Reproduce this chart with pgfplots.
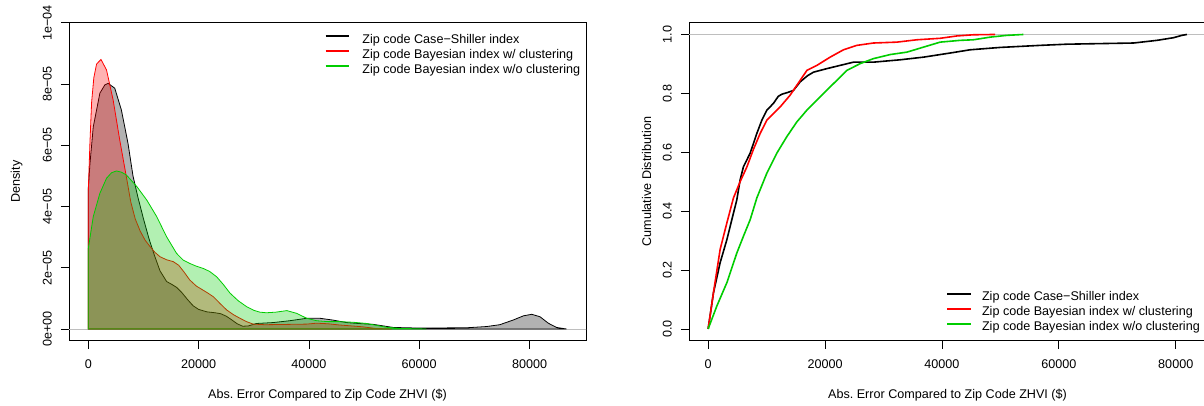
\documentclass[border=0pt]{standalone}
\usepackage{fontspec}
\setmainfont{Liberation Sans}
\usepackage{pgfplots}
\pgfplotsset{compat=1.18}
\definecolor{rgreen}{RGB}{0,205,0}
\definecolor{rgray}{RGB}{190,190,190}
\newcommand{\rfont}{\fontsize{12.6bp}{15bp}\selectfont}

\pgfplotstableread{
x y
0 4.6e-5
300 5.4e-5
900 6.6e-5
2100 7.7e-5
3000 7.97e-5
3600 8.02e-5
4800 7.86e-5
6000 7.15e-5
7200 6.06e-5
8100 5.0e-5
9000 4.3e-5
10000 3.6e-5
11000 2.95e-5
12000 2.4e-5
13000 1.9e-5
14200 1.55e-5
15200 1.45e-5
16000 1.36e-5
17000 1.18e-5
18000 0.96e-5
19000 0.76e-5
20000 0.64e-5
21500 0.56e-5
23000 0.53e-5
24000 0.5e-5
25000 0.42e-5
26000 0.3e-5
27000 0.17e-5
28000 0.09e-5
29000 0.1e-5
30500 0.18e-5
33500 0.21e-5
36500 0.27e-5
39600 0.35e-5
42000 0.35e-5
44400 0.29e-5
46800 0.21e-5
49000 0.18e-5
51700 0.15e-5
55300 0.05e-5
60000 0.03e-5
68600 0.04e-5
72200 0.08e-5
74600 0.14e-5
77000 0.29e-5
78900 0.43e-5
80400 0.48e-5
81900 0.40e-5
83400 0.19e-5
84900 0.05e-5
86700 0.0
}\densCS

\pgfplotstableread{
x y
0 4.5e-5
300 6.1e-5
600 7.4e-5
1000 8.2e-5
1500 8.65e-5
2300 8.8e-5
3300 8.46e-5
4500 7.48e-5
5700 6.17e-5
6900 4.97e-5
7700 4.15e-5
8500 3.6e-5
9400 3.2e-5
10300 2.9e-5
11200 2.69e-5
12100 2.5e-5
13000 2.36e-5
14200 2.26e-5
15400 2.2e-5
16400 2.08e-5
17400 1.85e-5
18400 1.6e-5
19600 1.4e-5
20800 1.27e-5
21700 1.17e-5
22700 1.05e-5
23900 0.83e-5
25100 0.62e-5
26300 0.47e-5
27500 0.35e-5
28700 0.24e-5
29900 0.16e-5
32000 0.14e-5
36000 0.15e-5
39600 0.16e-5
41400 0.19e-5
43500 0.17e-5
45600 0.13e-5
47800 0.1e-5
49800 0.07e-5
52000 0.02e-5
55000 0
}\densBW

\pgfplotstableread{
x y
0 2.63e-5
900 3.67e-5
2100 4.43e-5
3300 4.92e-5
4200 5.1e-5
5100 5.16e-5
6000 5.12e-5
6900 5.03e-5
8800 4.65e-5
10600 4.21e-5
12400 3.67e-5
14200 3.01e-5
16000 2.47e-5
17200 2.25e-5
18400 2.14e-5
19600 2.05e-5
20800 1.98e-5
22000 1.88e-5
23300 1.7e-5
24500 1.45e-5
25700 1.17e-5
27200 0.92e-5
28700 0.73e-5
30000 0.61e-5
31100 0.55e-5
32300 0.53e-5
34000 0.55e-5
36000 0.6e-5
37800 0.51e-5
39600 0.35e-5
41400 0.27e-5
43500 0.24e-5
45600 0.24e-5
48000 0.22e-5
50500 0.18e-5
52500 0.11e-5
54100 0.055e-5
56500 0.02e-5
61300 0
}\densBWO

\pgfplotstableread{
x y
0 0
910 0.123
2050 0.225
3200 0.303
4050 0.371
4910 0.439
5470 0.506
6040 0.551
7190 0.597
8330 0.664
9190 0.709
10040 0.743
11170 0.766
12000 0.79
12600 0.797
13600 0.803
14590 0.81
15740 0.839
17000 0.86
18020 0.872
20310 0.884
22580 0.895
24860 0.906
28280 0.906
32850 0.914
36840 0.923
41400 0.937
44820 0.948
49960 0.956
56800 0.963
61370 0.967
72770 0.971
76770 0.98
79610 0.989
81050 0.997
81900 1.0
}\ecdfCS

\pgfplotstableread{
x y
0 0
1000 0.135
2050 0.27
3200 0.36
4330 0.445
5470 0.50
6620 0.55
7750 0.61
8900 0.664
10040 0.709
12320 0.754
14030 0.794
15740 0.844
16890 0.878
18600 0.895
20870 0.923
23150 0.948
25440 0.963
28280 0.971
32290 0.974
35710 0.982
39690 0.987
42550 0.995
45390 0.999
49100 1.0
}\ecdfBW

\pgfplotstableread{
x y
0 0
1490 0.078
3200 0.157
4910 0.258
6040 0.315
7190 0.371
8330 0.445
10040 0.529
11750 0.597
13460 0.653
15170 0.703
16890 0.743
19160 0.788
21440 0.833
23730 0.878
26010 0.901
28280 0.918
31190 0.932
34000 0.94
36840 0.957
39690 0.974
43110 0.98
45390 0.982
48250 0.991
51100 0.997
53940 1.0
}\ecdfBWO

\pgfplotsset{
  rstyle/.style={
    scale only axis, width=517bp, height=318bp,
    axis line style={line width=0.8bp},
    tick align=outside, major tick length=8bp,
    xtick pos=left, ytick pos=left,
    every tick/.style={black, line width=0.8bp},
    tick label style={font=\rfont},
    label style={font=\rfont},
    scaled ticks=false,
    xtick={0,20000,40000,60000,80000},
    xticklabels={0,20000,40000,60000,80000},
    xticklabel style={anchor=base},
    xticklabel shift=20bp,
    yticklabel style={rotate=90, anchor=base},
    yticklabel shift=9.3bp,
    xlabel={Abs.\ Error Compared to Zip Code ZHVI (\$)},
    xlabel style={at={(axis description cs:0.5,-0.1833)}, anchor=base},
    legend cell align=left,
    legend style={draw=none, fill=none, inner sep=0pt, outer sep=0pt,
      row sep=0pt, font=\rfont,
      nodes={inner sep=0pt, text height=10bp, text depth=5bp}},
  }
}

\begin{document}
\rfont\frenchspacing
\begin{tikzpicture}
\path[use as bounding box] (0bp,0bp) rectangle (1204bp,406bp);

\begin{axis}[rstyle,
  at={(69bp,65.3bp)}, anchor=south west,
  xmin=-3500, xmax=90240, ymin=-3.82e-6, ymax=1e-4,
  ytick={0,2e-5,4e-5,6e-5,8e-5,1e-4},
  yticklabels={0e+00,2e−05,4e−05,6e−05,8e−05,1e−04},
  ylabel={Density},
  ylabel style={at={(axis description cs:-0.1012,0.5)}, anchor=center},
  legend style={at={(axis description cs:0.4952,0.9676)}, anchor=north west, column sep=12.7bp},
  legend image code/.code={\draw[#1, opacity=1, draw opacity=1] (0bp,4.5bp) -- (23.3bp,4.5bp);},
]
\addplot[rgray, line width=0.8bp, forget plot] coordinates {(-5000,0) (95000,0)};
\addplot[black, line width=0.8bp, fill=black, fill opacity=0.3, forget plot] table {\densCS} \closedcycle;
\addplot[red, line width=0.8bp, fill=red, fill opacity=0.3, forget plot] table {\densBW} \closedcycle;
\addplot[rgreen, line width=0.8bp, fill=rgreen, fill opacity=0.3, forget plot] table {\densBWO} \closedcycle;
\addlegendimage{draw=black, line width=1.3bp}
\addlegendentry{Zip code Case−Shiller index}
\addlegendimage{draw=red, line width=1.3bp}
\addlegendentry{Zip code Bayesian index w/ clustering}
\addlegendimage{draw=rgreen, line width=1.3bp}
\addlegendentry{Zip code Bayesian index w/o clustering}
\end{axis}

\begin{axis}[rstyle,
  at={(689bp,65.3bp)}, anchor=south west,
  xmin=-3276, xmax=85176, ymin=-0.04, ymax=1.04,
  ytick={0,0.2,0.4,0.6,0.8,1.0},
  yticklabels={0.0,0.2,0.4,0.6,0.8,1.0},
  ylabel={Cumulative Distribution},
  ylabel style={at={(axis description cs:-0.0818,0.5)}, anchor=center},
  legend style={at={(axis description cs:0.4971,0.1594)}, anchor=north west, column sep=10bp},
  legend image code/.code={\draw[#1] (0bp,4bp) -- (24bp,4bp);},
]
\addplot[rgray, line width=0.8bp, forget plot] coordinates {(-5000,1) (95000,1)};
\addplot[black, line width=1.6bp, forget plot] table {\ecdfCS};
\addplot[red, line width=1.6bp, forget plot] table {\ecdfBW};
\addplot[rgreen, line width=1.6bp, forget plot] table {\ecdfBWO};
\addlegendimage{black, line width=2bp}
\addlegendentry{Zip code Case−Shiller index}
\addlegendimage{red, line width=2bp}
\addlegendentry{Zip code Bayesian index w/ clustering}
\addlegendimage{rgreen, line width=2bp}
\addlegendentry{Zip code Bayesian index w/o clustering}
\end{axis}
\end{tikzpicture}
\end{document}
